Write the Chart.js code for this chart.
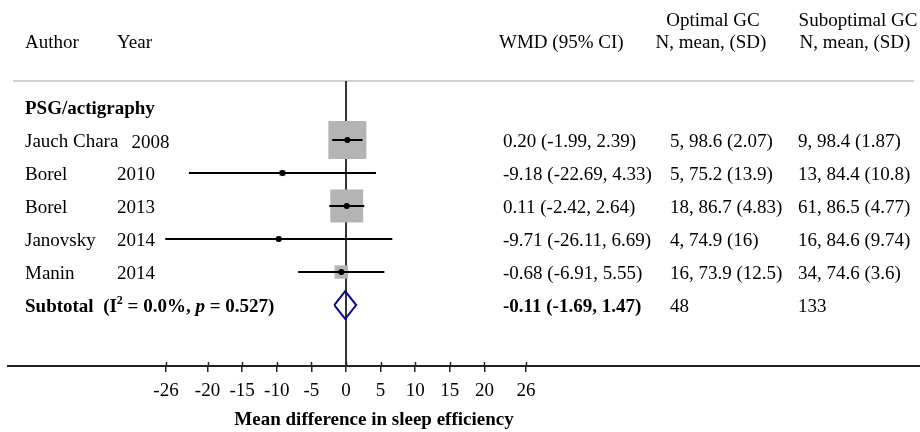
<!DOCTYPE html>
<html>
<head>
<meta charset="utf-8">
<script src="https://cdn.jsdelivr.net/npm/chart.js@4.4.0/dist/chart.umd.min.js"></script>
<style>
  body { margin: 0; background: #fff; }
</style>
</head>
<body>
<canvas id="myChart" width="920" height="432"></canvas>
<script>
// data
const authors = ['Jauch Chara', 'Borel', 'Borel', 'Janovsky', 'Manin'];
const years = ['2008', '2010', '2013', '2014', '2014'];
const wmd = [0.20, -9.18, 0.11, -9.71, -0.68];
const ciLow = [-1.99, -22.69, -2.42, -26.11, -6.91];
const ciHigh = [2.39, 4.33, 2.64, 6.69, 5.55];
const weights = [52.2, 1.4, 39.1, 0.9, 6.5];   // % weight
const wmdText = ['0.20 (-1.99, 2.39)', '-9.18 (-22.69, 4.33)', '0.11 (-2.42, 2.64)', '-9.71 (-26.11, 6.69)', '-0.68 (-6.91, 5.55)'];
const optimalGC = ['5, 98.6 (2.07)', '5, 75.2 (13.9)', '18, 86.7 (4.83)', '4, 74.9 (16)', '16, 73.9 (12.5)'];
const suboptimalGC = ['9, 98.4 (1.87)', '13, 84.4 (10.8)', '61, 86.5 (4.77)', '16, 84.6 (9.74)', '34, 74.6 (3.6)'];
const subtotal = [-0.11, -1.69, 1.47];
const subtotalText = '-0.11 (-1.69, 1.47)';
const subtotalN = ['48', '133'];
const tickVals = [-26, -20, -15, -10, -5, 0, 5, 10, 15, 20, 26];

const serif = '"Liberation Serif", "Times New Roman", serif';
const fs = 19;
const rowOf = i => i + 1;      // row 0 is the group heading
const subRow = 6;
const yMin = -0.788, yMax = 7.848;

const datasets = [];

// null line
datasets.push({
  type: 'line',
  data: [{x: 0, y: yMin}, {x: 0, y: yMax}],
  borderColor: '#333',
  borderWidth: 2,
  pointRadius: 0,
  order: 5
});

// weight boxes
datasets.push({
  type: 'scatter',
  data: wmd.map((v, i) => ({x: v, y: rowOf(i)})),
  pointStyle: 'rect',
  pointRadius: weights.map(w => 3.72 * Math.sqrt(w)),
  backgroundColor: '#b4b4b4',
  borderWidth: 0,
  order: 4
});

// confidence intervals
wmd.forEach((v, i) => {
  datasets.push({
    type: 'line',
    data: [{x: ciLow[i], y: rowOf(i)}, {x: ciHigh[i], y: rowOf(i)}],
    borderColor: '#000',
    borderWidth: 2,
    pointRadius: 0,
    order: 3
  });
});

// point estimates
datasets.push({
  type: 'scatter',
  data: wmd.map((v, i) => ({x: v, y: rowOf(i)})),
  pointStyle: 'circle',
  pointRadius: 3,
  backgroundColor: '#000',
  borderWidth: 0,
  order: 2
});

// subtotal diamond
const dh = 0.42;
datasets.push({
  type: 'line',
  data: [
    {x: subtotal[1], y: subRow},
    {x: subtotal[0], y: subRow - dh},
    {x: subtotal[2], y: subRow},
    {x: subtotal[0], y: subRow + dh},
    {x: subtotal[1], y: subRow}
  ],
  borderColor: '#0a0a80',
  borderWidth: 2,
  pointRadius: 0,
  tension: 0,
  order: 1
});

const textPlugin = {
  id: 'forestText',
  beforeDatasetsDraw(chart) {
    const ctx = chart.ctx;
    const top = chart.chartArea.top;
    ctx.save();
    ctx.strokeStyle = '#c4c4c4';
    ctx.lineWidth = 1.5;
    ctx.beginPath();
    ctx.moveTo(13, top);
    ctx.lineTo(914, top);
    ctx.stroke();
    ctx.restore();
  },
  afterDraw(chart) {
    const ctx = chart.ctx;
    const y = chart.scales.y;
    const xs = chart.scales.x;
    ctx.save();

    // upper half of the tick marks (they cross the axis line)
    ctx.strokeStyle = '#222';
    ctx.lineWidth = 1.5;
    ctx.beginPath();
    tickVals.forEach(v => {
      const px = Math.round(xs.getPixelForValue(v)) + 0.5;
      ctx.moveTo(px, xs.top - 4);
      ctx.lineTo(px, xs.top);
    });
    ctx.stroke();

    ctx.fillStyle = '#000';
    ctx.textBaseline = 'middle';
    ctx.font = fs + 'px ' + serif;

    // header
    ctx.textAlign = 'left';
    ctx.fillText('Author', 25, 43);
    ctx.fillText('Year', 117, 43);
    ctx.fillText('WMD (95% CI)', 499, 43);
    ctx.textAlign = 'center';
    ctx.fillText('Optimal GC', 713, 21);
    ctx.fillText('N, mean, (SD)', 711, 43);
    ctx.fillText('Suboptimal GC', 858, 21);
    ctx.fillText('N, mean, (SD)', 855, 43);

    // group heading
    ctx.textAlign = 'left';
    ctx.font = 'bold ' + fs + 'px ' + serif;
    ctx.fillText('PSG/actigraphy', 25, y.getPixelForValue(0) + 2);

    // study rows
    ctx.font = fs + 'px ' + serif;
    authors.forEach((a, i) => {
      const py = y.getPixelForValue(rowOf(i)) + 2;
      ctx.fillText(a, 25, py);
      const nameEnd = 25 + ctx.measureText(a).width;
      const long = nameEnd + 13 > 117;
      ctx.fillText(years[i], long ? nameEnd + 13 : 117, long ? py + 1 : py);
      ctx.fillText(wmdText[i], 503, py);
      ctx.fillText(optimalGC[i], 670, py);
      ctx.fillText(suboptimalGC[i], 798, py);
    });

    // subtotal row
    const sy = y.getPixelForValue(subRow) + 2;
    let x = 25;
    const parts = [
      ['Subtotal  (I', 'bold ' + fs + 'px ', 0],
      ['2', 'bold 12px ', -6],
      [' = 0.0%, ', 'bold ' + fs + 'px ', 0],
      ['p', 'bold italic ' + fs + 'px ', 0],
      [' = 0.527)', 'bold ' + fs + 'px ', 0]
    ];
    parts.forEach(p => {
      ctx.font = p[1] + serif;
      ctx.fillText(p[0], x, sy + p[2]);
      x += ctx.measureText(p[0]).width;
    });
    ctx.font = 'bold ' + fs + 'px ' + serif;
    ctx.fillText(subtotalText, 503, sy);
    ctx.font = fs + 'px ' + serif;
    ctx.fillText(subtotalN[0], 670, sy);
    ctx.fillText(subtotalN[1], 798, sy);

    // axis title
    ctx.textAlign = 'center';
    ctx.font = 'bold ' + fs + 'px ' + serif;
    ctx.fillText('Mean difference in sleep efficiency', 374, 420);
    ctx.restore();
  }
};

const ctx = document.getElementById('myChart').getContext('2d');
const myChart = new Chart(ctx, {
  data: { datasets: datasets },
  plugins: [textPlugin],
  options: {
    responsive: false,
    animation: false,
    devicePixelRatio: 1,
    layout: { autoPadding: false, padding: { top: 81, left: 8, right: 0, bottom: 0 } },
    plugins: {
      legend: { display: false },
      tooltip: { enabled: false }
    },
    scales: {
      x: {
        type: 'linear',
        min: -48.82,
        max: 82.91,
        afterBuildTicks: function(scale) {
          scale.ticks = tickVals.map(v => ({value: v}));
        },
        afterFit: function(scale) {
          scale.height = 66;
          scale.paddingLeft = 0;
          scale.paddingRight = 0;
        },
        ticks: {
          autoSkip: false,
          maxRotation: 0,
          color: '#000',
          padding: 8,
          font: { family: serif, size: fs }
        },
        grid: {
          drawOnChartArea: false,
          drawTicks: true,
          tickLength: 6,
          color: '#222',
          lineWidth: 1.5
        },
        border: { display: true, color: '#222', width: 2 }
      },
      y: {
        type: 'linear',
        display: false,
        reverse: true,
        min: yMin,
        max: yMax
      }
    }
  }
});
</script>
</body>
</html>
